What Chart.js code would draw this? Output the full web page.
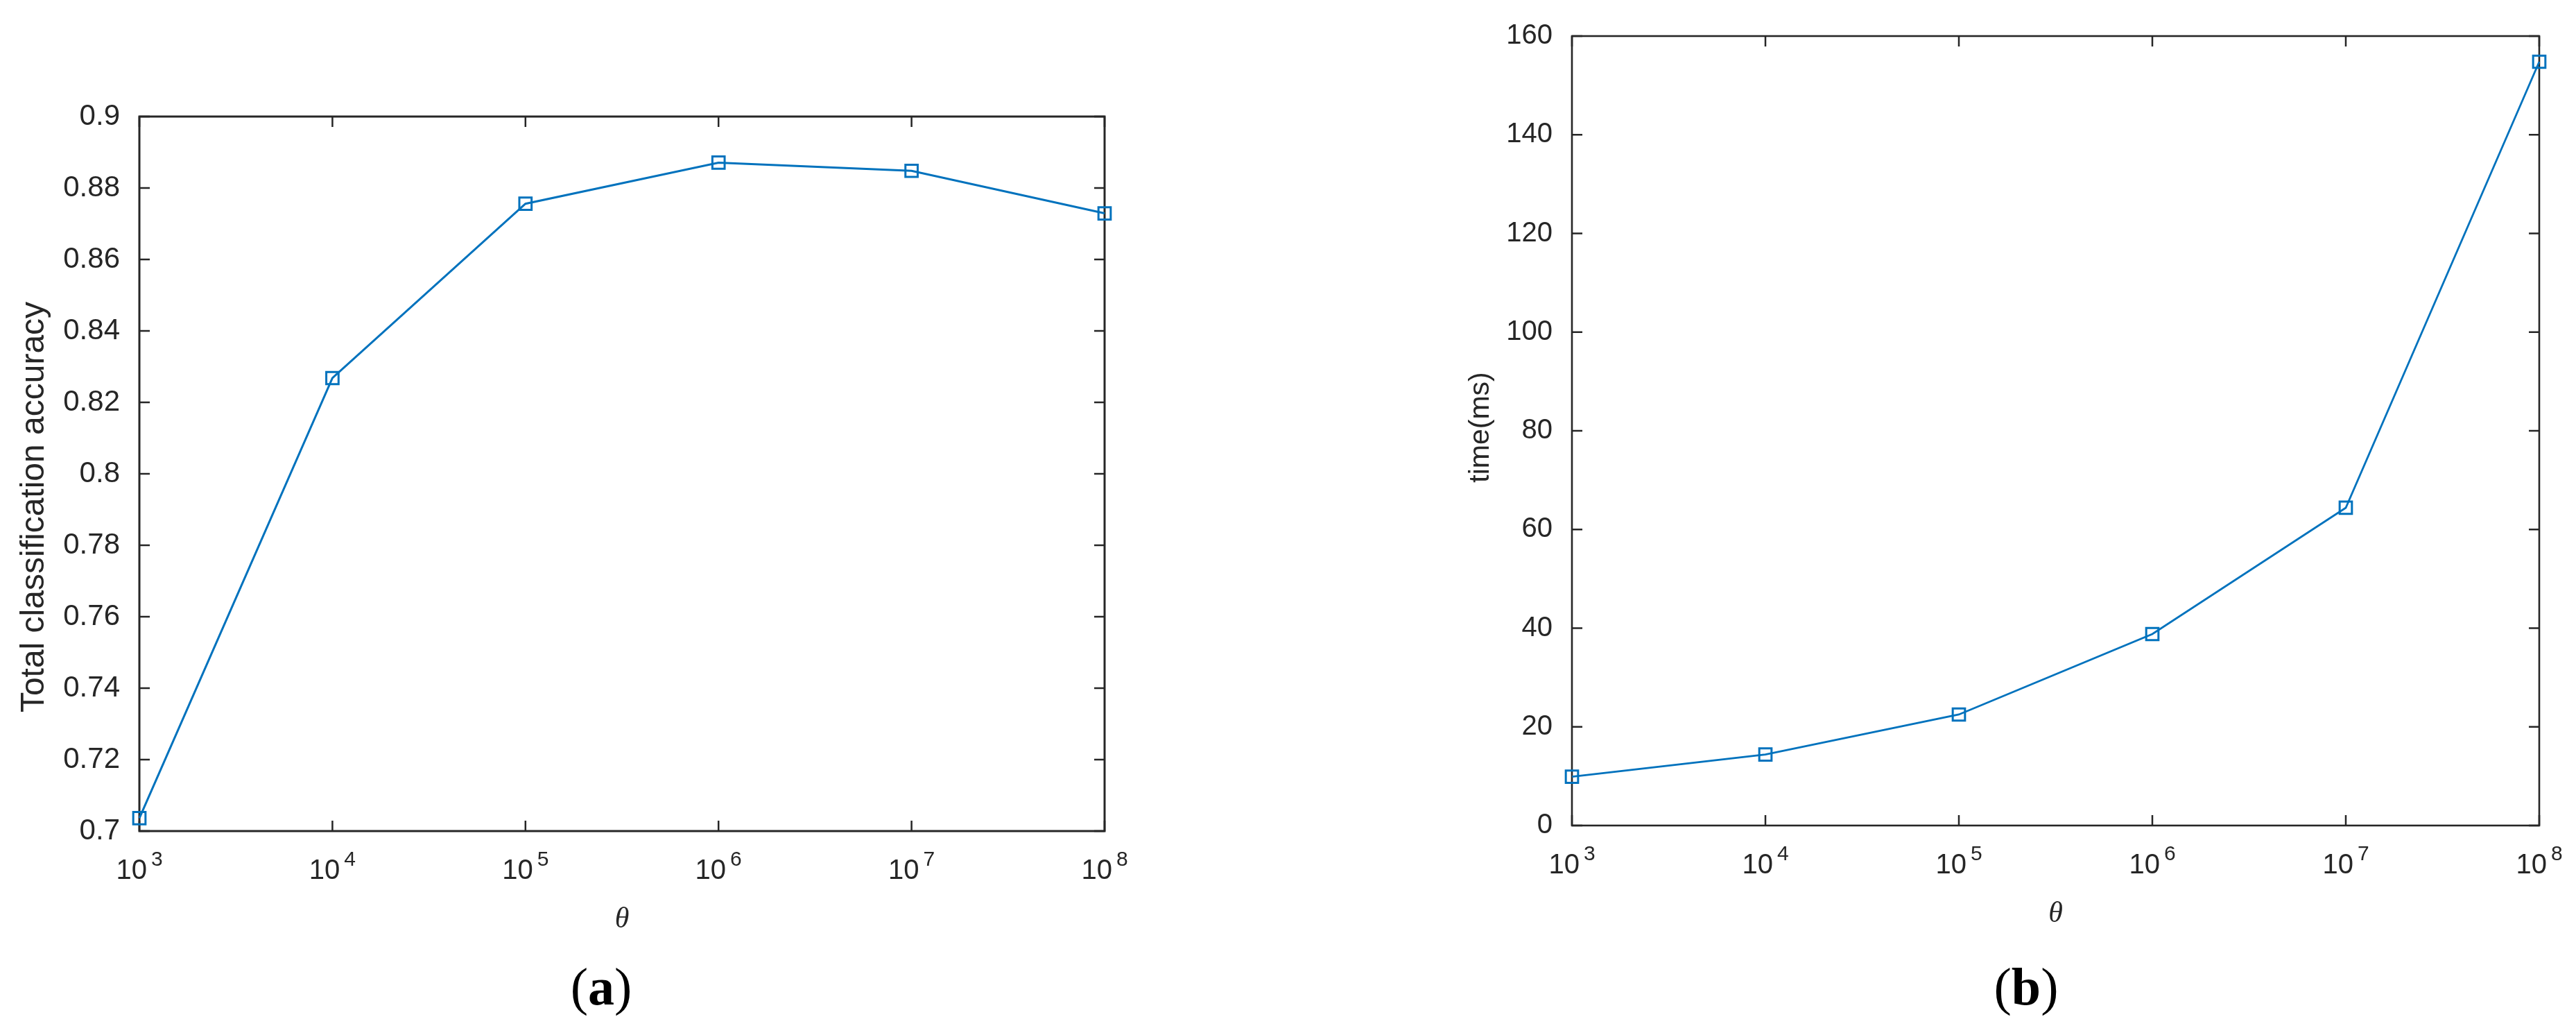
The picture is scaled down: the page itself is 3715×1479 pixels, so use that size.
<!DOCTYPE html>
<html>
<head>
<meta charset="utf-8">
<script src="https://cdn.jsdelivr.net/npm/chart.js@4.4.1/dist/chart.umd.min.js"></script>
<style>
	html, body { margin: 0; padding: 0; background: #fff; }
	body { width: 3715px; height: 1479px; position: relative; overflow: hidden; }
	canvas { position: absolute; top: 0; }
	#accChart { left: 0; }
	#timeChart { left: 1850px; }
</style>
</head>
<body>
<canvas id="accChart" width="1850" height="1479"></canvas>
<canvas id="timeChart" width="1865" height="1479"></canvas>
<script>
// theta values on the (log) x axis, and the exponents shown as 10^n
var thetaValues = [1e3, 1e4, 1e5, 1e6, 1e7, 1e8];
var thetaExponents = ['3', '4', '5', '6', '7', '8'];

// (a) total classification accuracy
var accuracy = [0.7036, 0.8268, 0.8756, 0.8871, 0.8848, 0.8729];
var accuracyTicks = [0.7, 0.72, 0.74, 0.76, 0.78, 0.8, 0.82, 0.84, 0.86, 0.88, 0.9];

// (b) time in ms
var timeMs = [9.9, 14.4, 22.5, 38.8, 64.4, 154.8];
var timeTicks = [0, 20, 40, 60, 80, 100, 120, 140, 160];

var axisColor = '#262626';
var lineColor = '#0072BD';
var sansFont = '"Liberation Sans", Arial, sans-serif';
var serifFont = '"Liberation Serif", "Times New Roman", serif';

Chart.defaults.font.family = sansFont;
Chart.defaults.color = axisColor;

function toPoints(ys) {
	var pts = [];
	for (var i = 0; i < thetaValues.length; i++) {
		pts.push({ x: thetaValues[i], y: ys[i] });
	}
	return pts;
}

// MATLAB-like box, inward ticks, 10^n labels, rotated y title, theta and caption
var matlabFrame = {
	id: 'matlabFrame',
	beforeDatasetsDraw: function(chart) {
		var o = chart.options.plugins.matlabFrame;
		var a = chart.chartArea;
		var ctx = chart.ctx;
		var xs = chart.scales.x;
		var ys = chart.scales.y;
		var i, px, py;

		ctx.save();
		ctx.strokeStyle = axisColor;
		ctx.fillStyle = axisColor;

		// ticks
		ctx.lineWidth = o.tickWidth;
		ctx.beginPath();
		for (i = 0; i < thetaValues.length; i++) {
			px = xs.getPixelForValue(thetaValues[i]);
			ctx.moveTo(px, a.bottom);
			ctx.lineTo(px, a.bottom - o.tickLen);
			ctx.moveTo(px, a.top);
			ctx.lineTo(px, a.top + o.tickLen);
		}
		for (i = 0; i < o.yTicks.length; i++) {
			py = ys.getPixelForValue(o.yTicks[i]);
			ctx.moveTo(a.left, py);
			ctx.lineTo(a.left + o.tickLen, py);
			ctx.moveTo(a.right, py);
			ctx.lineTo(a.right - o.tickLen, py);
		}
		ctx.stroke();

		// box
		ctx.lineWidth = o.boxWidth;
		ctx.strokeRect(a.left, a.top, a.right - a.left, a.bottom - a.top);

		// x tick labels: 10 with superscript exponent
		ctx.textAlign = 'left';
		ctx.textBaseline = 'alphabetic';
		for (i = 0; i < thetaValues.length; i++) {
			px = xs.getPixelForValue(thetaValues[i]);
			ctx.font = '40px ' + sansFont;
			var w1 = ctx.measureText('10').width;
			ctx.font = '30px ' + sansFont;
			var w2 = ctx.measureText(thetaExponents[i]).width;
			var start = px - (w1 + 6 + w2) / 2;
			ctx.font = '40px ' + sansFont;
			ctx.fillText('10', start, a.bottom + 69);
			ctx.font = '30px ' + sansFont;
			ctx.fillText(thetaExponents[i], start + w1 + 6, a.bottom + 50);
		}

		// theta label
		ctx.textAlign = 'center';
		ctx.font = 'italic 42px ' + serifFont;
		ctx.fillText('\u03b8', (a.left + a.right) / 2, o.thetaY);

		// y title
		ctx.save();
		ctx.translate(o.yTitleX, o.yTitleY);
		ctx.rotate(-Math.PI / 2);
		ctx.font = o.yTitleSize + 'px ' + sansFont;
		ctx.fillText(o.yTitle, 0, 0);
		ctx.restore();

		// caption "(a)" with bold letter
		ctx.fillStyle = '#000';
		var parts = [['(', ''], [o.caption, 'bold '], [')', '']];
		var total = 0;
		for (i = 0; i < parts.length; i++) {
			ctx.font = parts[i][1] + '76px ' + serifFont;
			total += ctx.measureText(parts[i][0]).width;
		}
		var cx = o.captionX - total / 2;
		ctx.textAlign = 'left';
		for (i = 0; i < parts.length; i++) {
			ctx.font = parts[i][1] + '76px ' + serifFont;
			ctx.fillText(parts[i][0], cx, 1448);
			cx += ctx.measureText(parts[i][0]).width;
		}
		ctx.restore();
	}
};

function makeChart(id, values, yTicks, yMin, yMax, frame, pad, yAxisWidth, tickSize, lineW) {
	var ctx = document.getElementById(id).getContext('2d');
	return new Chart(ctx, {
		type: 'line',
		data: {
			datasets: [{
				data: toPoints(values),
				borderColor: lineColor,
				borderWidth: lineW,
				pointStyle: 'rect',
				pointRadius: 12.5,
				pointBorderWidth: 3,
				pointBorderColor: lineColor,
				pointBackgroundColor: 'rgba(0,0,0,0)',
				tension: 0,
				clip: false
			}]
		},
		options: {
			responsive: false,
			devicePixelRatio: 1,
			animation: false,
			layout: { padding: pad },
			scales: {
				x: {
					type: 'logarithmic',
					display: false,
					min: thetaValues[0],
					max: thetaValues[thetaValues.length - 1]
				},
				y: {
					min: yMin,
					max: yMax,
					grid: { display: false, drawTicks: false },
					border: { display: false },
					afterBuildTicks: function(scale) {
						scale.ticks = yTicks.map(function(v) { return { value: v }; });
					},
					afterFit: function(scale) {
						scale.width = yAxisWidth;
					},
					ticks: {
						padding: 28,
						color: axisColor,
						font: { size: tickSize },
						callback: function(v) {
							return String(Math.round(v * 100) / 100);
						}
					}
				}
			},
			plugins: {
				legend: { display: false },
				tooltip: { enabled: false },
				matlabFrame: frame
			}
		},
		plugins: [matlabFrame]
	});
}

makeChart('accChart', accuracy, accuracyTicks, 0.7, 0.9, {
	yTicks: accuracyTicks,
	tickLen: 15,
	tickWidth: 2.5,
	boxWidth: 3,
	thetaY: 1337,
	yTitle: 'Total classification accuracy',
	yTitleX: 63,
	yTitleY: 731,
	yTitleSize: 48,
	caption: 'a',
	captionX: 867
}, { top: 168, right: 257, bottom: 281, left: 0 }, 201, 42, 3);

makeChart('timeChart', timeMs, timeTicks, 0, 160, {
	yTicks: timeTicks,
	tickLen: 15,
	tickWidth: 2.5,
	boxWidth: 2.6,
	thetaY: 1329,
	yTitle: 'time(ms)',
	yTitleX: 297,
	yTitleY: 616,
	yTitleSize: 41,
	caption: 'b',
	captionX: 1072
}, { top: 35, right: 53, bottom: 289, left: 0 }, 417, 40, 2.8);
</script>
</body>
</html>
